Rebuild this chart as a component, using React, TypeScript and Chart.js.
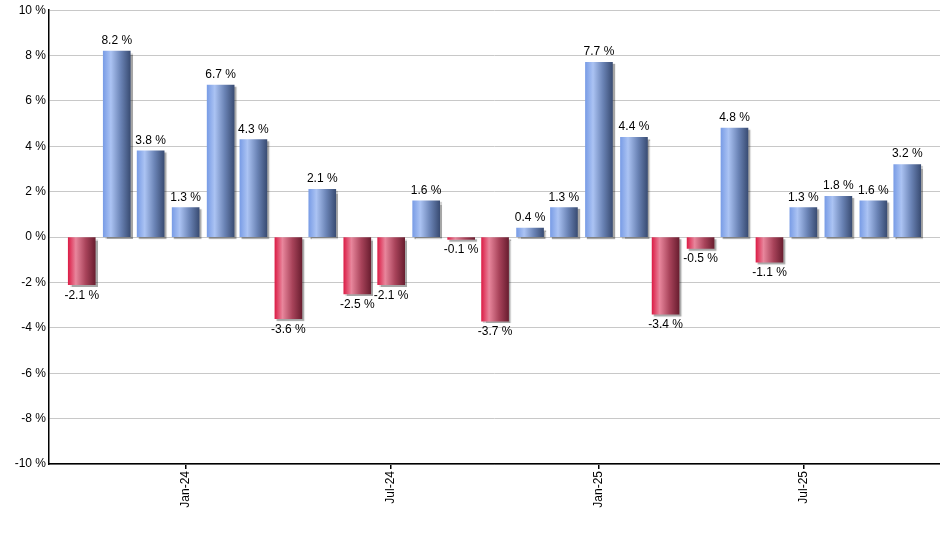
import React, { useEffect, useRef } from "react";
import { Chart, registerables } from "chart.js";

Chart.register(...registerables);

const months: string[] = [
  "2023-10", "2023-11", "2023-12", "2024-01", "2024-02", "2024-03", "2024-04",
  "2024-05", "2024-06", "2024-07", "2024-08", "2024-09", "2024-10", "2024-11",
  "2024-12", "2025-01", "2025-02", "2025-03", "2025-04", "2025-05", "2025-06",
  "2025-07", "2025-08", "2025-09", "2025-10",
];
const values: number[] = [
  -2.1, 8.2, 3.8, 1.3, 6.7, 4.3, -3.6, 2.1, -2.5, -2.1, 1.6, -0.1, -3.7, 0.4,
  1.3, 7.7, 4.4, -3.4, -0.5, 4.8, -1.1, 1.3, 1.8, 1.6, 3.2,
];
const tickMonths: string[] = ["2024-01", "2024-07", "2025-01", "2025-07"];
const tickLabels: string[] = ["Jan-24", "Jul-24", "Jan-25", "Jul-25"];
const yMin = -10;
const yMax = 10;
const yStep = 2;

const dayOf = (s: string) => {
  const [y, m] = s.split("-").map(Number);
  return Date.UTC(y, m - 1, 1) / 86400000;
};

const FONT = "'Liberation Sans', Arial, sans-serif";
const BAR_W = 27;

export default function App() {
  const ref = useRef<HTMLCanvasElement | null>(null);

  useEffect(() => {
    if (!ref.current) return;
    const points = months.map((m, i) => ({ x: dayOf(m), y: values[i] }));
    const tickDays = tickMonths.map(dayOf);

    const makeGradient = (ctx: CanvasRenderingContext2D, cx: number, positive: boolean) => {
      const g = ctx.createLinearGradient(cx - BAR_W / 2, 0, cx + BAR_W / 2, 0);
      if (positive) {
        g.addColorStop(0, "#7a9de6");
        g.addColorStop(0.28, "#abc3f3");
        g.addColorStop(0.65, "#6a83b5");
        g.addColorStop(1, "#3a4d74");
      } else {
        g.addColorStop(0, "#dc1f48");
        g.addColorStop(0.28, "#e8869c");
        g.addColorStop(0.65, "#a8435a");
        g.addColorStop(1, "#6a1e30");
      }
      return g;
    };

    const gradientPlugin = {
      id: "barGradient",
      beforeDatasetDraw(chart: any) {
        const ctx = chart.ctx;
        const meta = chart.getDatasetMeta(0);
        meta.data.forEach((bar: any, i: number) => {
          if (bar && bar.options && isFinite(bar.x)) {
            bar.options.backgroundColor = makeGradient(ctx, bar.x, values[i] >= 0);
          }
        });
        ctx.save();
        ctx.shadowColor = "rgba(0,0,0,0.35)";
        ctx.shadowOffsetX = 2;
        ctx.shadowOffsetY = 2;
        ctx.shadowBlur = 1;
      },
      afterDatasetDraw(chart: any) {
        chart.ctx.restore();
      },
    };

    const labelPlugin = {
      id: "valueLabels",
      afterDatasetsDraw(chart: any) {
        const ctx = chart.ctx;
        const meta = chart.getDatasetMeta(0);
        ctx.save();
        ctx.font = `12px ${FONT}`;
        ctx.fillStyle = "#000";
        ctx.textAlign = "center";
        ctx.textBaseline = "alphabetic";
        meta.data.forEach((bar: any, i: number) => {
          const v = values[i];
          const txt = v.toFixed(1) + " %";
          if (v >= 0) ctx.fillText(txt, bar.x, bar.y - 7);
          else ctx.fillText(txt, bar.x, bar.y + 14);
        });
        ctx.restore();
      },
    };

    const chart = new Chart(ref.current, {
      type: "bar",
      data: {
        datasets: [
          {
            data: points as any,
            backgroundColor: values.map((v) => (v >= 0 ? "#7a9de6" : "#dc1f48")),
            borderWidth: 0,
            barThickness: BAR_W,
          },
        ],
      },
      options: {
        animation: false,
        responsive: true,
        maintainAspectRatio: false,
        layout: { padding: { top: 10, right: 0, left: 0, bottom: 0 } },
        plugins: {
          legend: { display: false },
          tooltip: { enabled: false },
        },
        scales: {
          x: {
            type: "linear",
            offset: false,
            min: dayOf(months[0]) - 29,
            max: dayOf(months[months.length - 1]) + 29,
            afterBuildTicks: (scale: any) => {
              scale.ticks = tickDays.map((v) => ({ value: v }));
            },
            afterFit: (scale: any) => {
              scale.height = 86;
            },
            ticks: {
              autoSkip: false,
              maxRotation: 90,
              minRotation: 90,
              padding: 2,
              color: "#000",
              font: { family: FONT, size: 12 },
              callback: (v: any) => {
                const idx = tickDays.indexOf(Number(v));
                return idx >= 0 ? tickLabels[idx] : "";
              },
            },
            grid: {
              offset: false,
              drawOnChartArea: false,
              drawTicks: true,
              tickLength: 5,
              color: "#000",
              lineWidth: 1.5,
            },
            border: { display: true, color: "#000", width: 1.5 },
          },
          y: {
            min: yMin,
            max: yMax,
            afterFit: (scale: any) => {
              scale.width = 49;
            },
            ticks: {
              stepSize: yStep,
              padding: 3,
              color: "#000",
              font: { family: FONT, size: 12 },
              callback: (v: any) => `${v} %`,
            },
            grid: {
              color: "#c8c8c8",
              lineWidth: 1,
              drawTicks: false,
            },
            border: { display: true, color: "#000", width: 1.5 },
          },
        },
      },
      plugins: [gradientPlugin, labelPlugin],
    });
    return () => chart.destroy();
  }, []);

  return (
    <div style={{ position: "fixed", left: 0, top: 0, width: 940, height: 550, background: "#fff" }}>
      <canvas ref={ref} />
    </div>
  );
}
